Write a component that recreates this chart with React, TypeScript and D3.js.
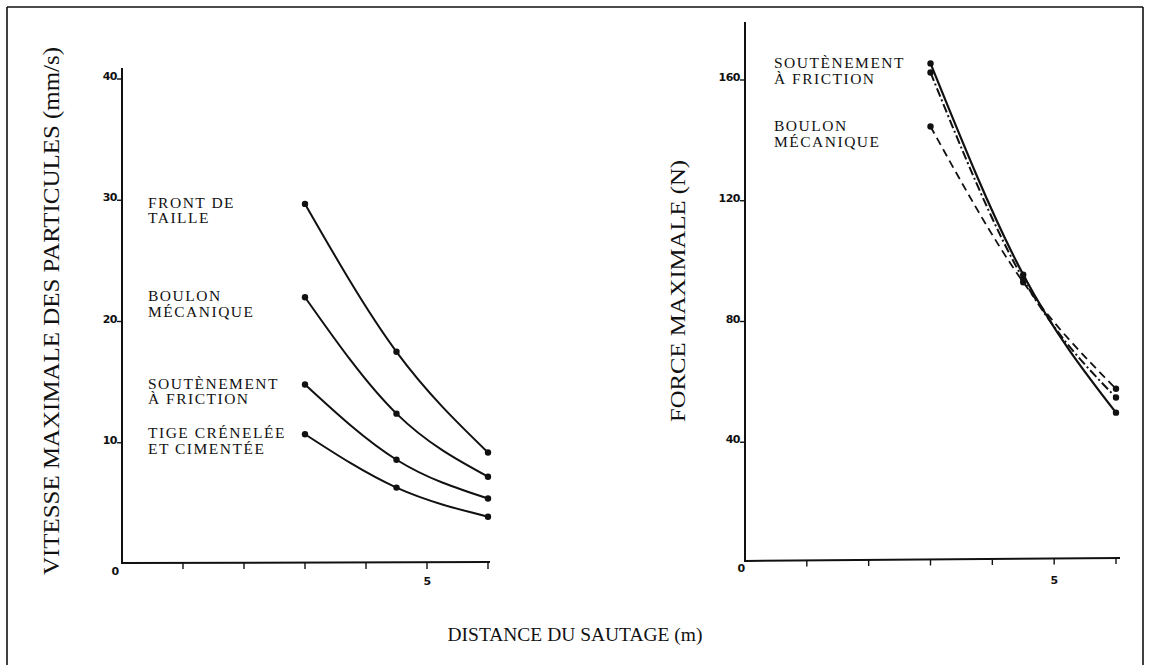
import React from "react";
import * as d3 from "d3";

// Distances (m) where the measurements were taken
const distances = [3, 4.5, 6];

// Left panel: peak particle velocity (mm/s)
const velocityFront = [29.7, 17.5, 9.2];
const velocityBoulon = [22.0, 12.4, 7.2];
const velocitySoutenement = [14.8, 8.6, 5.4];
const velocityTige = [10.7, 6.3, 3.9];

// Right panel: peak force (N)
const forceSoutenementA = [165.5, 95.5, 49.8];
const forceSoutenementB = [162.5, 94.0, 54.8];
const forceBoulon = [144.6, 93.0, 57.7];

const velocityTicks = [10, 20, 30, 40];
const forceTicks = [40, 80, 120, 160];
const distanceTicks = [0, 1, 2, 3, 4, 5, 6];
const distanceLabels = [0, 5];

const velocityLabels = [
  { lines: ["FRONT DE", "TAILLE"], value: 29.7 },
  { lines: ["BOULON", "MÉCANIQUE"], value: 22.0 },
  { lines: ["SOUTÈNEMENT", "À FRICTION"], value: 14.8 },
  { lines: ["TIGE CRÉNELÉE", "ET CIMENTÉE"], value: 10.7 },
];
const forceLabels = [
  { lines: ["SOUTÈNEMENT", "À FRICTION"], value: 165.5 },
  { lines: ["BOULON", "MÉCANIQUE"], value: 144.6 },
];

const SERIF = "'Liberation Serif', 'DejaVu Serif', serif";
const SANS = "'DejaVu Sans', 'Liberation Sans', sans-serif";

export default function App() {
  const xL = d3.scaleLinear().domain([0, 6]).range([122, 488]);
  const yL = d3.scaleLinear().domain([0, 40]).range([564, 79]);
  const xR = d3.scaleLinear().domain([0, 6]).range([745, 1116]);
  const yR = d3.scaleLinear().domain([0, 160]).range([563, 80]);

  const lineL = d3
    .line<[number, number]>()
    .x((d) => xL(d[0]))
    .y((d) => yL(d[1]))
    .curve(d3.curveNatural);
  const lineR = d3
    .line<[number, number]>()
    .x((d) => xR(d[0]))
    .y((d) => yR(d[1]))
    .curve(d3.curveNatural);

  const pts = (vals: number[]) =>
    distances.map((d, i) => [d, vals[i]] as [number, number]);

  const leftSeries = [velocityFront, velocityBoulon, velocitySoutenement, velocityTige];
  const rightSeries = [
    { vals: forceSoutenementA, dash: "none", w: 2.2 },
    { vals: forceSoutenementB, dash: "9 3 2 3", w: 2 },
    { vals: forceBoulon, dash: "8 5", w: 1.8 },
  ];

  const labelStyle = {
    fontFamily: SERIF,
    fontSize: 15.5,
    letterSpacing: 1.5,
    fill: "#111",
  } as const;

  const tickStyle = {
    fontFamily: SANS,
    fontWeight: 700,
    fontSize: 11,
    fill: "#111",
    letterSpacing: -0.5,
  } as const;

  // two-line series label, one <text> per line
  const Label = ({ x, y, lines }: { x: number; y: number; lines: string[] }) => (
    <g>
      {lines.map((ln, k) => (
        <text key={k} x={x} y={y + k * 15.5} {...labelStyle}>
          {ln}
        </text>
      ))}
    </g>
  );

  return (
    <svg
      width={1150}
      height={665}
      style={{ position: "absolute", left: 0, top: 0, background: "#fff" }}
    >
      {/* frame */}
      <g stroke="#111" strokeWidth={1.6} fill="none">
        <line x1={7} y1={7} x2={1143} y2={7} />
        <line x1={7} y1={7} x2={7} y2={665} />
        <line x1={1143} y1={7} x2={1143} y2={665} />
      </g>

      {/* left panel axes */}
      <g stroke="#111" strokeWidth={2} fill="none">
        <line x1={xL(0)} y1={68} x2={xL(0)} y2={yL(0)} />
        <line x1={xL(0)} y1={yL(0) - 1} x2={xL(6) + 2} y2={yL(0) - 2} />
        {velocityTicks.map((t) => (
          <line key={t} x1={xL(0) - 5} y1={yL(t)} x2={xL(0)} y2={yL(t)} strokeWidth={1.4} />
        ))}
        {distanceTicks.slice(1).map((t) => (
          <line key={t} x1={xL(t)} y1={yL(0) - 1} x2={xL(t)} y2={yL(0) + 5} strokeWidth={1.4} />
        ))}
      </g>
      <g>
        {velocityTicks.map((t) => (
          <text key={t} x={xL(0) - 5} y={yL(t) + 1} textAnchor="end" {...tickStyle}>
            {t}
          </text>
        ))}
        {distanceLabels.map((t) =>
          t === 0 ? (
            <text key={t} x={xL(0) - 7} y={yL(0) + 11} textAnchor="middle" {...tickStyle}>
              {t}
            </text>
          ) : (
            <text key={t} x={xL(t)} y={yL(0) + 21} textAnchor="middle" {...tickStyle}>
              {t}
            </text>
          )
        )}
      </g>

      {/* left panel curves */}
      <g>
        {leftSeries.map((s, i) => (
          <g key={i}>
            <path d={lineL(pts(s)) || ""} fill="none" stroke="#111" strokeWidth={2} />
            {pts(s).map((p, j) => (
              <circle key={j} cx={xL(p[0])} cy={yL(p[1])} r={3.2} fill="#111" />
            ))}
          </g>
        ))}
      </g>
      {velocityLabels.map((l, i) => (
        <Label key={i} x={148} y={yL(l.value) + 4} lines={l.lines} />
      ))}

      {/* right panel axes */}
      <g stroke="#111" strokeWidth={2} fill="none">
        <line x1={xR(0)} y1={22} x2={xR(0)} y2={yR(0) - 1} />
        <line x1={xR(0)} y1={yR(0) - 2} x2={xR(6) + 4} y2={yR(0) - 5} />
        {forceTicks.map((t) => (
          <line key={t} x1={xR(0) - 5} y1={yR(t)} x2={xR(0)} y2={yR(t)} strokeWidth={1.4} />
        ))}
        {distanceTicks.slice(1).map((t) => (
          <line
            key={t}
            x1={xR(t)}
            y1={yR(0) - 2 - (t / 6) * 3}
            x2={xR(t)}
            y2={yR(0) + 4 - (t / 6) * 3}
            strokeWidth={1.4}
          />
        ))}
      </g>
      <g>
        {forceTicks.map((t) => (
          <text key={t} x={xR(0) - 5} y={yR(t) + 1} textAnchor="end" {...tickStyle}>
            {t}
          </text>
        ))}
        {distanceLabels.map((t) =>
          t === 0 ? (
            <text key={t} x={xR(0) - 4} y={yR(0) + 9} textAnchor="middle" {...tickStyle}>
              {t}
            </text>
          ) : (
            <text key={t} x={xR(t)} y={yR(0) + 21} textAnchor="middle" {...tickStyle}>
              {t}
            </text>
          )
        )}
      </g>

      {/* right panel curves */}
      <g>
        {rightSeries.map((s, i) => (
          <g key={i}>
            <path
              d={lineR(pts(s.vals)) || ""}
              fill="none"
              stroke="#111"
              strokeWidth={s.w}
              strokeDasharray={s.dash}
            />
            {pts(s.vals).map((p, j) => (
              <circle key={j} cx={xR(p[0])} cy={yR(p[1])} r={3.2} fill="#111" />
            ))}
          </g>
        ))}
      </g>
      {forceLabels.map((l, i) => (
        <Label key={i} x={774} y={yR(l.value) + 5} lines={l.lines} />
      ))}

      {/* axis titles */}
      <text
        transform="translate(59,311) rotate(-90)"
        textAnchor="middle"
        fontFamily={SERIF}
        fontSize={23}
        textLength={528}
        lengthAdjust="spacingAndGlyphs"
        fill="#111"
      >
        VITESSE MAXIMALE DES PARTICULES (mm/s)
      </text>
      <text
        transform="translate(685,291) rotate(-90)"
        textAnchor="middle"
        fontFamily={SERIF}
        fontSize={21}
        textLength={262}
        lengthAdjust="spacingAndGlyphs"
        fill="#111"
      >
        FORCE MAXIMALE (N)
      </text>
      <text
        x={575}
        y={641}
        textAnchor="middle"
        fontFamily={SERIF}
        fontSize={19}
        textLength={255}
        lengthAdjust="spacingAndGlyphs"
        fill="#111"
      >
        DISTANCE DU SAUTAGE (m)
      </text>
    </svg>
  );
}
